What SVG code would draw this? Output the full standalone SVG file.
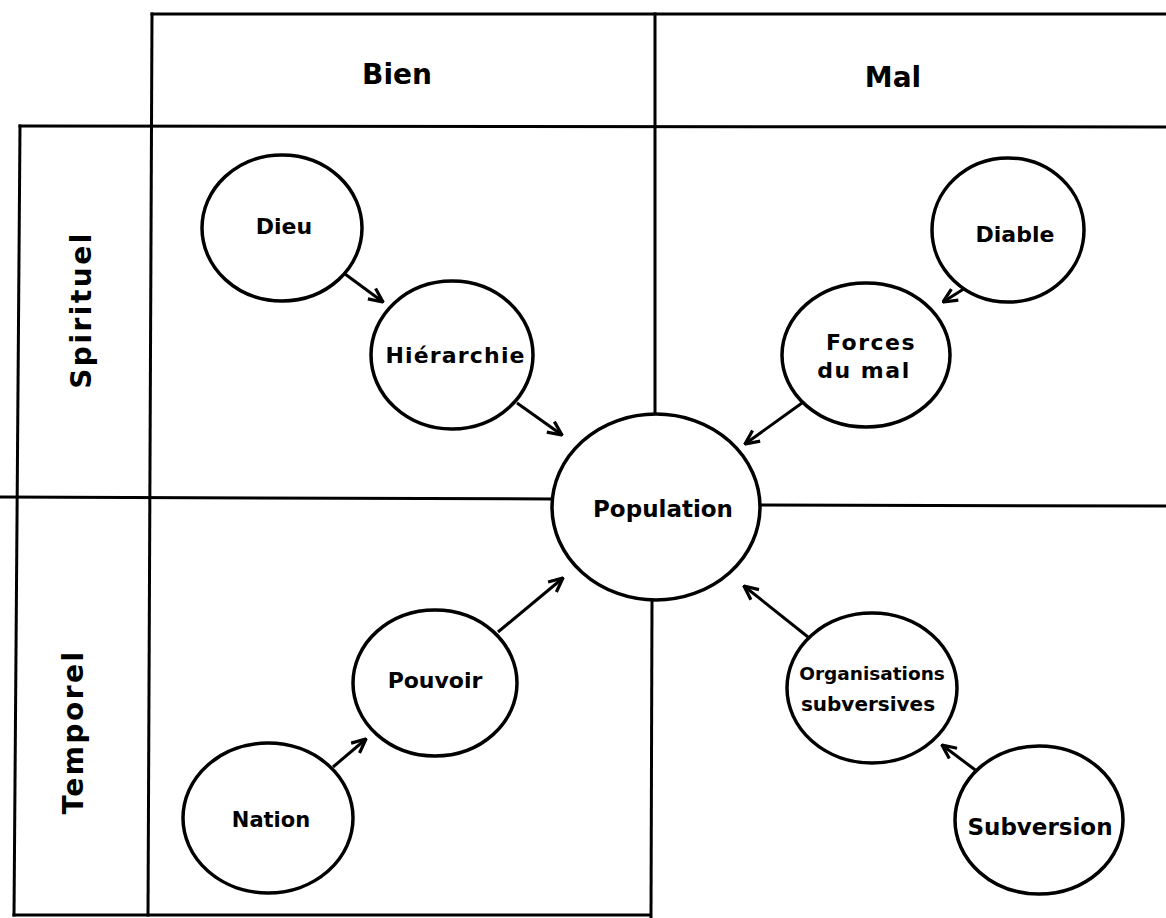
<svg xmlns="http://www.w3.org/2000/svg" width="1166" height="918" viewBox="0 0 1166 918">
<style>
.grid{stroke:#000;stroke-width:3;fill:none;stroke-linecap:square}
.node{fill:#fff;stroke:#000;stroke-width:3.5}
.lbl{font-family:"DejaVu Sans","Liberation Sans",sans-serif;font-size:22px;font-weight:bold;fill:#000;text-anchor:middle}
.hdr{font-family:"DejaVu Sans","Liberation Sans",sans-serif;font-size:28px;font-weight:bold;fill:#000;text-anchor:middle}
.conn{stroke:#000;stroke-width:3;fill:none}
</style>
<defs>
<marker id="ah" viewBox="0 0 16 16" refX="15" refY="8" markerWidth="16" markerHeight="16" markerUnits="userSpaceOnUse" orient="auto">
<path d="M1,1.5 L15,8 L1,14.5" fill="none" stroke="#000" stroke-width="3.2"/>
</marker>
</defs>
<rect width="1166" height="918" fill="#fff"/>
<g id="grid">
<line class="grid" x1="152" y1="14" x2="1166" y2="14"/>
<line class="grid" x1="152" y1="14" x2="148" y2="915"/>
<line class="grid" x1="20" y1="126" x2="1166" y2="127"/>
<line class="grid" x1="20" y1="126" x2="14" y2="915"/>
<line class="grid" x1="14" y1="915" x2="650" y2="915"/>
<line class="grid" x1="655" y1="14" x2="655" y2="415"/>
<line class="grid" x1="652" y1="600" x2="651" y2="918"/>
<line class="grid" x1="0" y1="497" x2="553" y2="499"/>
<line class="grid" x1="759" y1="505" x2="1166" y2="506"/>
</g>
<g id="headers">
<text class="hdr" x="397" y="84">Bien</text>
<text class="hdr" x="893" y="87">Mal</text>
<text class="hdr" transform="translate(91,310) rotate(-90)" letter-spacing="2.5">Spirituel</text>
<text class="hdr" transform="translate(83,732) rotate(-90)" letter-spacing="2.5">Temporel</text>
</g>
<g id="connectors">
<line class="conn" x1="345" y1="274" x2="383" y2="302" marker-end="url(#ah)"/>
<line class="conn" x1="517" y1="403" x2="562" y2="435" marker-end="url(#ah)"/>
<line class="conn" x1="978" y1="280" x2="943" y2="302" marker-end="url(#ah)"/>
<line class="conn" x1="802" y1="403" x2="745" y2="444" marker-end="url(#ah)"/>
<line class="conn" x1="498" y1="632" x2="563" y2="578" marker-end="url(#ah)"/>
<line class="conn" x1="333" y1="767" x2="366" y2="739" marker-end="url(#ah)"/>
<line class="conn" x1="808" y1="637" x2="744" y2="586" marker-end="url(#ah)"/>
<line class="conn" x1="978" y1="772" x2="942" y2="745" marker-end="url(#ah)"/>
</g>
<g id="dieu"><ellipse class="node" cx="282" cy="228" rx="80" ry="73"/><text class="lbl" x="284" y="234">Dieu</text></g>
<g id="hierarchie"><ellipse class="node" cx="452" cy="355" rx="81" ry="74"/><text class="lbl" x="455" y="363" textLength="139">Hiérarchie</text></g>
<g id="diable"><ellipse class="node" cx="1008" cy="230" rx="76" ry="72"/><text class="lbl" x="1015" y="242">Diable</text></g>
<g id="forces"><ellipse class="node" cx="866" cy="355" rx="84" ry="72"/><text class="lbl" x="871" y="350" letter-spacing="1.5">Forces</text><text class="lbl" x="864" y="378" letter-spacing="1.5">du mal</text></g>
<g id="population"><ellipse class="node" cx="656" cy="507" rx="104" ry="93"/><text class="lbl" x="663" y="517" style="font-size:23px">Population</text></g>
<g id="pouvoir"><ellipse class="node" cx="435" cy="683" rx="82" ry="73"/><text class="lbl" x="435" y="688">Pouvoir</text></g>
<g id="nation"><ellipse class="node" cx="268" cy="818" rx="85" ry="75"/><text class="lbl" x="271" y="827" style="font-size:21px">Nation</text></g>
<g id="organisations"><ellipse class="node" cx="872" cy="688" rx="85" ry="75"/><text class="lbl" x="872" y="680" style="font-size:18.5px">Organisations</text><text class="lbl" x="868" y="711" style="font-size:20px">subversives</text></g>
<g id="subversion"><ellipse class="node" cx="1039" cy="820" rx="84" ry="74"/><text class="lbl" x="1040" y="835" style="font-size:23px">Subversion</text></g>
</svg>
